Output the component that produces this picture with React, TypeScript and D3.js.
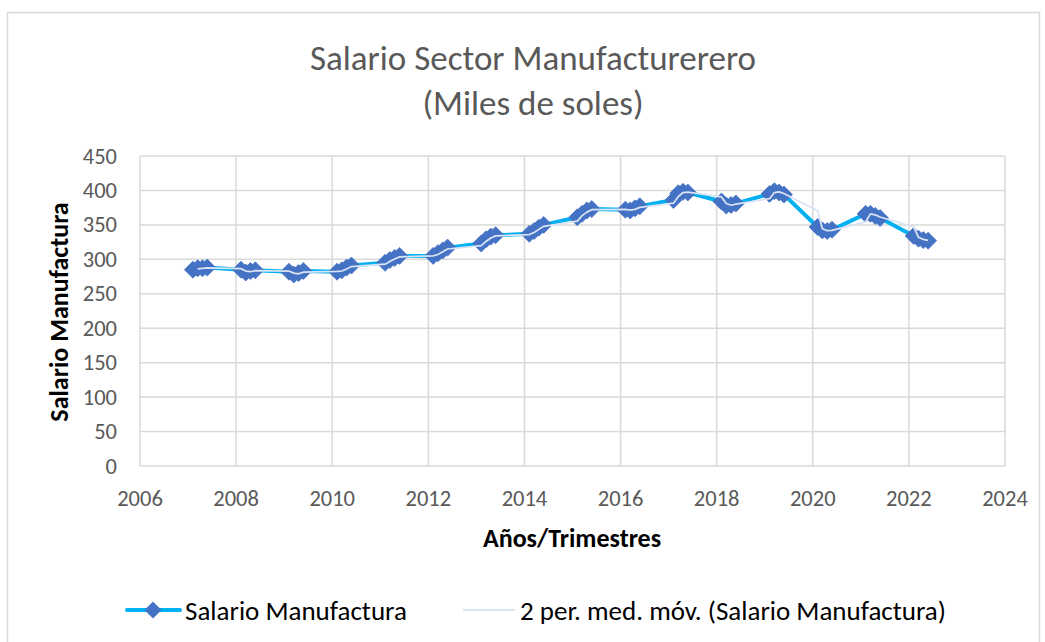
import React from "react";
import * as d3 from "d3";

const periodos: number[] = [
  2007.1, 2007.2, 2007.3, 2007.4,
  2008.1, 2008.2, 2008.3, 2008.4,
  2009.1, 2009.2, 2009.3, 2009.4,
  2010.1, 2010.2, 2010.3, 2010.4,
  2011.1, 2011.2, 2011.3, 2011.4,
  2012.1, 2012.2, 2012.3, 2012.4,
  2013.1, 2013.2, 2013.3, 2013.4,
  2014.1, 2014.2, 2014.3, 2014.4,
  2015.1, 2015.2, 2015.3, 2015.4,
  2016.1, 2016.2, 2016.3, 2016.4,
  2017.1, 2017.2, 2017.3, 2017.4,
  2018.1, 2018.2, 2018.3, 2018.4,
  2019.1, 2019.2, 2019.3, 2019.4,
  2020.1, 2020.2, 2020.3, 2020.4,
  2021.1, 2021.2, 2021.3, 2021.4,
  2022.1, 2022.2, 2022.3, 2022.4,
];

const salario: number[] = [
  285, 287, 287, 288,
  285, 281, 283, 284,
  282, 278, 280, 283,
  282, 284, 288, 291,
  295, 299, 302, 305,
  305, 309, 313, 317,
  323, 329, 333, 335,
  337, 341, 346, 350,
  361, 366, 371, 373,
  372, 371, 374, 377,
  386, 396, 398, 397,
  384, 378, 379, 381,
  395, 399, 397, 394,
  347, 342, 341, 343,
  366, 366, 363, 360,
  334, 330, 328, 327,
];

const xTicks: number[] = [2006, 2008, 2010, 2012, 2014, 2016, 2018, 2020, 2022, 2024];
const yTicks: number[] = [0, 50, 100, 150, 200, 250, 300, 350, 400, 450];

const titulo1 = "Salario Sector Manufacturerero";
const titulo2 = "(Miles de soles)";
const ejeX = "Años/Trimestres";
const ejeY = "Salario Manufactura";
const serie1 = "Salario Manufactura";
const serie2 = "2 per. med. móv. (Salario Manufactura)";

const FONT = "Carlito, Calibri, Lato, sans-serif";

export default function App() {
  const W = 1045;
  const H = 642;
  const x = d3.scaleLinear().domain([2006, 2024]).range([140, 1005]);
  const y = d3.scaleLinear().domain([0, 450]).range([466, 156]);

  const pts = periodos.map((p, i) => [p, salario[i]] as [number, number]);
  const ma = pts.slice(1).map((d, i) => [d[0], (d[1] + pts[i][1]) / 2] as [number, number]);

  const line = d3
    .line<[number, number]>()
    .x((d) => x(d[0]))
    .y((d) => y(d[1]));

  const h = 8.5;
  const diamond = (cx: number, cy: number) =>
    `M${cx},${cy - h}L${cx + h},${cy}L${cx},${cy + h}L${cx - h},${cy}Z`;

  return (
    <svg
      width={W}
      height={H}
      style={{ position: "fixed", left: 0, top: 0, background: "#fff" }}
      fontFamily={FONT}
    >
      <rect x={7.5} y={12.5} width={1032} height={640} fill="#fff" stroke="#d9d9d9" strokeWidth={1.5} />

      <text x={533} y={58} textAnchor="middle" dominantBaseline="central" fontSize={35} fill="#595959" fontWeight={300}>
        {titulo1}
      </text>
      <text x={533} y={103} textAnchor="middle" dominantBaseline="central" fontSize={35} fill="#595959" fontWeight={300}>
        {titulo2}
      </text>

      {yTicks.map((t) => (
        <line key={"gy" + t} x1={x(2006)} x2={x(2024)} y1={y(t)} y2={y(t)} stroke="#d9d9d9" strokeWidth={1.5} />
      ))}
      {xTicks.map((t) => (
        <line key={"gx" + t} x1={x(t)} x2={x(t)} y1={y(0)} y2={y(450)} stroke="#d9d9d9" strokeWidth={1.5} />
      ))}

      {yTicks.map((t) => (
        <text key={"ty" + t} x={117} y={y(t)} textAnchor="end" dominantBaseline="central" fontSize={22.5} fill="#595959">
          {t}
        </text>
      ))}
      {xTicks.map((t) => (
        <text key={"tx" + t} x={x(t)} y={498} textAnchor="middle" dominantBaseline="central" fontSize={22.5} fill="#595959">
          {t}
        </text>
      ))}

      <text x={572} y={538} textAnchor="middle" dominantBaseline="central" fontSize={26} fontWeight={700} fill="#000">
        {ejeX}
      </text>
      <text
        transform={`translate(59,312) rotate(-90)`}
        textAnchor="middle"
        dominantBaseline="central"
        fontSize={26}
        fontWeight={700}
        fill="#000"
      >
        {ejeY}
      </text>

      <path d={line(pts) || ""} fill="none" stroke="#00b0f0" strokeWidth={4} strokeLinejoin="round" strokeLinecap="round" />
      {pts.map((d, i) => (
        <path key={"m" + i} d={diamond(x(d[0]), y(d[1]))} fill="#4472c4" stroke="#4472c4" strokeWidth={0.75} />
      ))}
      <path d={line(ma) || ""} fill="none" stroke="#dae3f3" strokeWidth={1.75} strokeLinejoin="round" />

      <line x1={127} x2={180} y1={610} y2={610} stroke="#00b0f0" strokeWidth={4} strokeLinecap="round" />
      <path d={diamond(153, 610)} fill="#4472c4" />
      <text x={185} y={610} dominantBaseline="central" fontSize={27} fill="#000">
        {serie1}
      </text>
      <line x1={463} x2={515} y1={610} y2={610} stroke="#dae3f3" strokeWidth={2} />
      <text x={520} y={610} dominantBaseline="central" fontSize={27} fill="#000">
        {serie2}
      </text>
    </svg>
  );
}
